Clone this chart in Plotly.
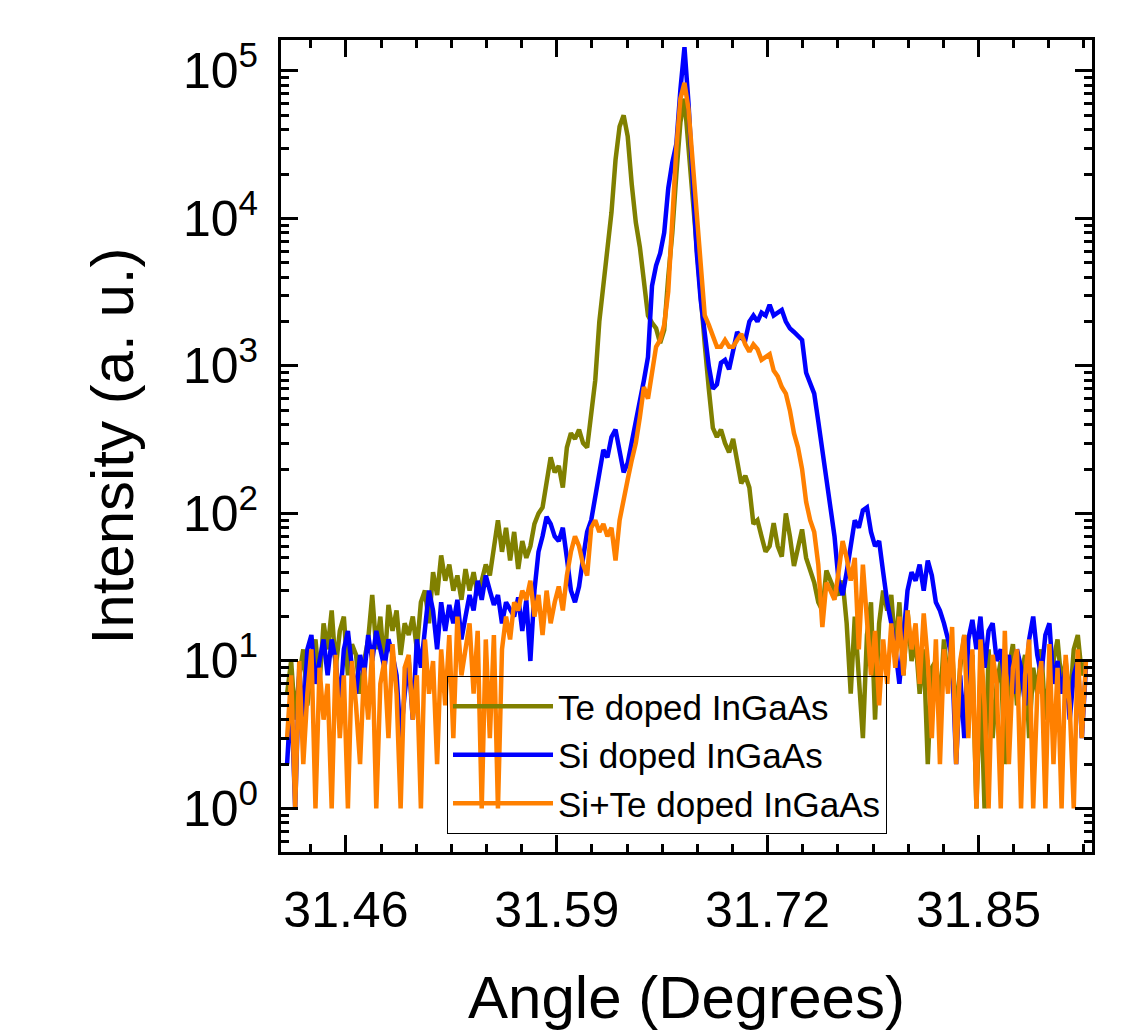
import plotly.graph_objects as go

# ---------------- data ----------------
ANGLE_START = 31.42375
ANGLE_STEP = 0.0025
N_POINTS = 198
angle = [round(ANGLE_START + ANGLE_STEP * i, 5) for i in range(N_POINTS)]

te_doped = [
    6, 10, 4, 8, 12, 5, 9, 14, 7, 18,
    12, 22, 9, 16, 20, 8, 13, 11, 6, 10,
    14, 28, 12, 20, 9, 24, 16, 22, 11, 18,
    15, 20, 12, 25, 30, 18, 40, 28, 52, 35,
    45, 30, 38, 26, 42, 30, 40, 28, 35, 45,
    38, 60, 90, 55, 80, 48, 75, 42, 65, 50,
    60, 85, 100, 110, 160, 240, 190, 210, 150, 280,
    350, 320, 370, 300, 280, 500, 800, 2000, 3500, 5500,
    11000, 25000, 42000, 50000, 36000, 17000, 9400, 6400, 3800, 2200,
    1960, 1800, 1430, 1750, 4000, 8000, 20000, 45000, 65000, 30000,
    12000, 6000, 2500, 1400, 700, 380, 330, 370, 300, 260,
    320, 230, 160, 180, 150, 85, 90, 70, 55, 60,
    86, 60, 51, 100, 70, 44, 60, 78, 50, 40,
    34, 25, 22, 41, 35, 30, 28, 35, 18, 6,
    20, 8, 3, 15, 25, 4, 18, 30, 22, 28,
    12, 25, 8, 22, 10, 14, 6, 12, 2, 9,
    10, 5, 14, 7, 12, 4, 9, 15, 6, 11,
    1, 8, 1, 12, 3, 7, 10, 2, 9, 13,
    5, 8, 11, 3, 9, 6, 12, 4, 8, 10,
    14, 7, 10, 5, 12, 15, 8, 10,
]

si_doped = [
    2, 6, 1, 9, 4, 12, 15, 7, 10, 14,
    8, 14, 10, 5, 12, 16, 9, 6, 11, 8,
    15, 10, 16, 12, 9, 14, 11, 8, 3, 6,
    10, 4, 14, 9, 18, 30, 22, 12, 25, 16,
    24, 18, 26, 14, 20, 28, 22, 35, 26, 38,
    30, 24, 28, 18, 25, 22, 20, 27, 16, 26,
    10, 30, 55, 70, 95, 85, 70, 65, 80, 50,
    30, 25, 32, 50, 75, 90, 130, 200, 270, 240,
    330, 370, 260, 190, 220, 300, 420, 600, 800, 1150,
    3500, 4800, 5800, 8000, 16000, 24000, 32000, 75000, 145000, 60000,
    18000, 6000, 2800, 1700, 1000, 700, 750, 1050, 1100, 950,
    1300, 1700, 1550, 1500, 2000, 2200, 2000, 2300, 2200, 2600,
    2200, 2300, 2400, 2000, 1800, 1700, 1600, 1500, 900, 750,
    650, 420, 260, 170, 110, 70, 35, 28, 40, 60,
    90, 80, 105, 110, 75, 60, 65, 40, 25, 18,
    12, 7, 15, 30, 40, 35, 45, 30, 48, 38,
    25, 22, 18, 14, 10, 2, 8, 3, 14, 19,
    12, 20, 9, 16, 18, 10, 12, 7, 11, 6,
    12, 9, 5, 14, 20, 11, 8, 15, 18, 7,
    10, 6, 9, 4, 8, 10, 3, 9,
]

si_te_doped = [
    3, 8, 1, 10, 2, 6, 12, 1, 9, 4,
    7, 1, 11, 3, 8, 1, 10, 5, 2, 9,
    4, 12, 1, 7, 10, 3, 13, 6, 1, 9,
    11, 4, 8, 1, 14, 6, 10, 2, 12, 5,
    15, 3, 20, 8, 12, 18, 6, 16, 1, 14,
    3, 15, 1, 12, 20, 14, 25, 22, 30, 26,
    35, 20, 28, 15, 30, 18, 25, 32, 22, 38,
    55, 70, 60, 45, 38, 80, 90, 75, 85, 70,
    80, 48, 90, 130, 170, 230, 300, 450, 720, 600,
    900, 1350, 1500, 1900, 3200, 10000, 30000, 65000, 83000, 55000,
    25000, 10000, 5000, 2200, 1900, 1600, 1350, 1350, 1500, 1350,
    1350, 1500, 1650, 1400, 1250, 1400, 1300, 1100, 1150, 1200,
    930, 850, 720, 650, 500, 350, 280, 200, 120, 90,
    75, 45, 17, 34, 30, 26, 40, 65, 50, 35,
    50, 12, 45, 20, 8, 16, 5, 14, 7, 18,
    9, 20, 8, 22, 12, 18, 7, 21, 10, 3,
    14, 2, 12, 6, 17, 2, 10, 15, 3, 12,
    1, 14, 5, 1, 11, 7, 1, 16, 2, 9,
    12, 1, 8, 14, 1, 6, 10, 1, 13, 2,
    9, 1, 11, 5, 1, 12, 3, 10,
]

series_names = ["Te doped InGaAs", "Si doped InGaAs", "Si+Te doped InGaAs"]
series_colors = ["#808000", "#0000FF", "#FF8000"]
series_values = [te_doped, si_doped, si_te_doped]

x_tick_start = 31.46
x_tick_step = 0.13

y_tick_values = [1, 10, 100, 1000, 10000, 100000]
y_tick_labels = ["10<sup>0</sup>", "10<sup>1</sup>", "10<sup>2</sup>",
                 "10<sup>3</sup>", "10<sup>4</sup>", "10<sup>5</sup>"]

# ---------------- figure ----------------
FONT = "Liberation Sans, Arial, sans-serif"
fig = go.Figure()
for name, color, vals in zip(series_names, series_colors, series_values):
    fig.add_trace(go.Scatter(
        x=angle, y=vals, name=name, mode="lines",
        line=dict(color=color, width=4.5),
    ))

axis_common = dict(
    showline=True, linecolor="black", linewidth=3, mirror="ticks",
    ticks="inside", ticklen=17, tickwidth=3, tickcolor="black",
    showgrid=False, zeroline=False,
    tickfont=dict(family=FONT, size=50, color="black"),
)

fig.update_xaxes(
    **axis_common,
    range=[31.42, 31.92],
    tick0=x_tick_start, dtick=x_tick_step, tickformat=".2f",
    minor=dict(tick0=x_tick_start, dtick=x_tick_step / 6, ticks="inside",
               ticklen=8, tickwidth=3, tickcolor="black", showgrid=False),
    title=dict(text="Angle (Degrees)", font=dict(family=FONT, size=60, color="black"),
               standoff=40),
    ticklabelstandoff=12,
)
fig.update_yaxes(
    **axis_common,
    type="log", range=[-0.295, 5.21],
    tickmode="array", tickvals=y_tick_values, ticktext=y_tick_labels,
    minor=dict(tickmode="linear", dtick="D1", ticks="inside", ticklen=8, tickwidth=3,
               tickcolor="black", showgrid=False),
    title=dict(text="Intensity (a. u.)", font=dict(family=FONT, size=60, color="black"),
               standoff=30),
    ticklabelstandoff=10,
)

fig.update_layout(
    width=1127, height=1031,
    margin=dict(l=281, r=35, t=40, b=179),
    paper_bgcolor="white", plot_bgcolor="white",
    font=dict(family=FONT, color="black"),
    legend=dict(
        x=0.2047, y=0.2167, xanchor="left", yanchor="top",
        bgcolor="rgba(0,0,0,0)", bordercolor="black", borderwidth=1,
        font=dict(family=FONT, size=35, color="black"),
        tracegroupgap=0, itemwidth=100,
    ),
    showlegend=True,
)

fig.write_html("out.html", config={"displayModeBar": False},
               post_script="document.body.style.margin='0';document.body.style.overflow='hidden';")
